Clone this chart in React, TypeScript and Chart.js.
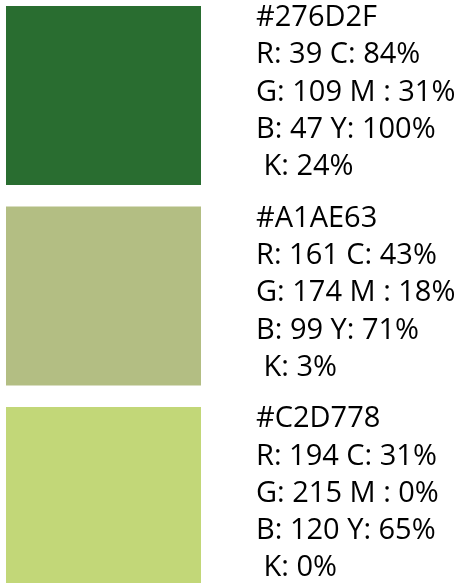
import { useEffect, useRef } from 'react';
import Chart from 'chart.js/auto';

// Swatch data
const swatchNames = ['#276D2F', '#A1AE63', '#C2D778'];
const swatchFill = ['#296D30', '#B3BE83', '#C2D778'];
const redValues = [39, 161, 194];
const greenValues = [109, 174, 215];
const blueValues = [47, 99, 120];
const cyanPct = [84, 43, 31];
const magentaPct = [31, 18, 0];
const yellowPct = [100, 71, 65];
const blackPct = [24, 3, 0];
const swatchPositions = [0, 1, 2];
const swatchAmount = [1, 1, 1];

function labelFor(i: number): string[] {
  return [
    swatchNames[i],
    `R: ${redValues[i]} C: ${cyanPct[i]}%`,
    `G: ${greenValues[i]} M : ${magentaPct[i]}%`,
    `B: ${blueValues[i]} Y: ${yellowPct[i]}%`,
    ` K: ${blackPct[i]}%`,
  ];
}

const swatchLabels = {
  id: 'swatchLabels',
  afterDatasetsDraw(chart: any) {
    const { ctx, chartArea, scales } = chart;
    const lineHeight = 37.3;
    ctx.save();
    ctx.font = '29px "Open Sans"';
    ctx.fillStyle = '#000000';
    ctx.textAlign = 'left';
    ctx.textBaseline = 'middle';
    swatchPositions.forEach((p, i) => {
      const cy = scales.y.getPixelForValue(p) - 3;
      const lines = labelFor(i);
      const mid = (lines.length - 1) / 2;
      lines.forEach((line, j) => {
        ctx.fillText(line, chartArea.right + 55, cy + (j - mid) * lineHeight);
      });
    });
    ctx.restore();
  },
};

export default function App() {
  const ref = useRef<HTMLCanvasElement | null>(null);
  useEffect(() => {
    if (!ref.current) return;
    const chart = new Chart(ref.current, {
      type: 'bar',
      data: {
        datasets: [
          {
            data: swatchPositions.map((p, i) => ({ x: swatchAmount[i], y: p })),
            backgroundColor: swatchFill,
            borderWidth: 0,
            barPercentage: 0.893,
            categoryPercentage: 1,
          },
        ],
      },
      options: {
        animation: false,
        responsive: false,
        devicePixelRatio: 1,
        indexAxis: 'y',
        layout: { padding: { left: 6, right: 260, top: 0, bottom: 0 } },
        plugins: { legend: { display: false }, tooltip: { enabled: false } },
        scales: {
          x: { type: 'linear', display: false, min: 0, max: 1 },
          y: {
            type: 'linear',
            display: false,
            offset: false,
            reverse: true,
            min: -0.476,
            max: 2.431,
            afterBuildTicks: (s: any) => {
              s.ticks = swatchPositions.map((v) => ({ value: v }));
            },
          },
        },
      },
      plugins: [swatchLabels],
    } as any);
    return () => chart.destroy();
  }, []);
  return (
    <div style={{ position: 'fixed', left: 0, top: 0, width: 461, height: 583, background: '#fff' }}>
      <canvas ref={ref} width={461} height={583} />
    </div>
  );
}
